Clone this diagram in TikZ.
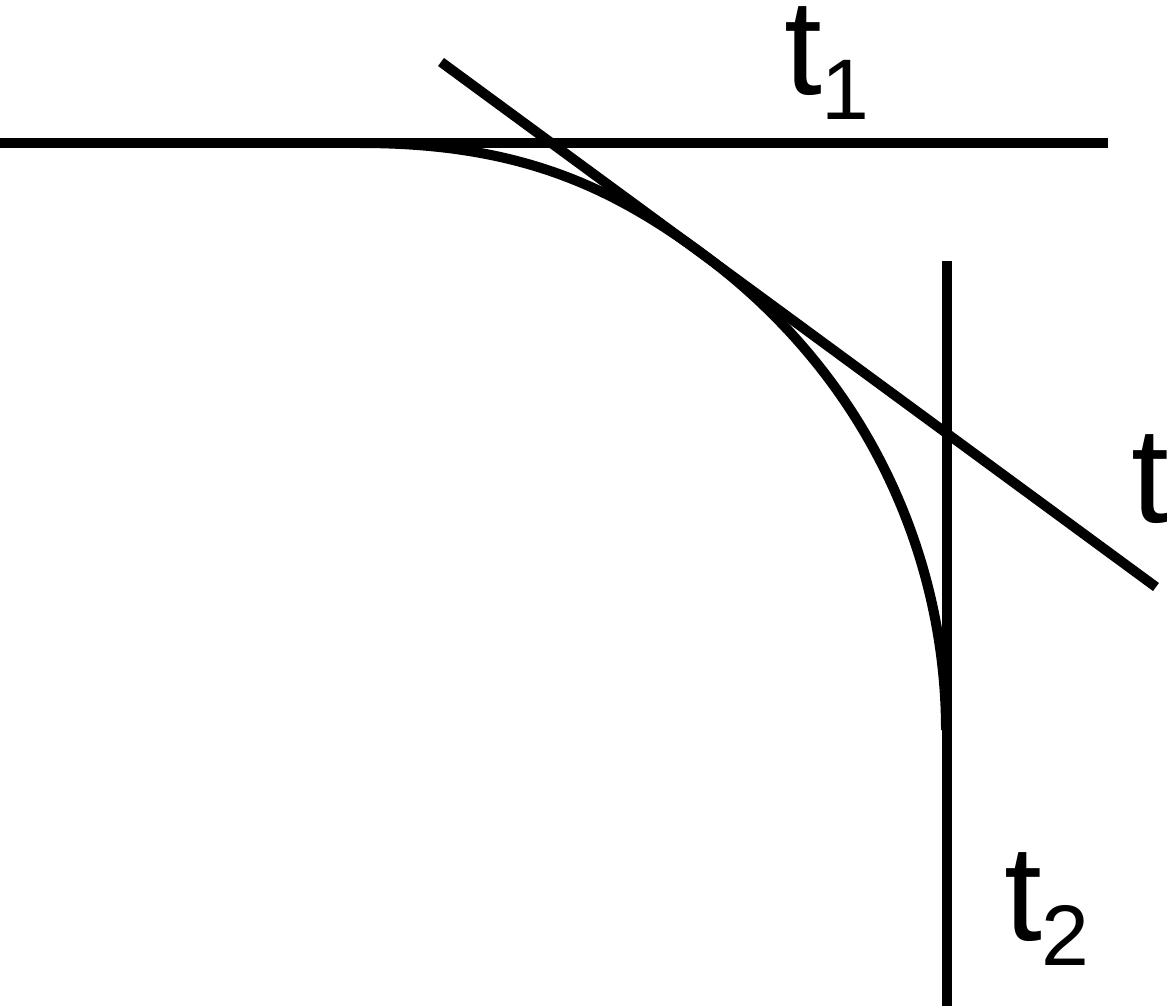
\documentclass[tikz,border=0pt]{standalone}
\usepackage{fontspec}
\setmainfont{Liberation Sans}
\newcommand{\bigT}{\fontsize{68}{68}\selectfont}
\newcommand{\subT}[1]{\raisebox{-12.5pt}{\fontsize{43}{43}\selectfont #1}}
\begin{document}
\begin{tikzpicture}[x=0.5pt,y=-0.5pt,
  ln/.style={line width=5pt, black},
  lbl/.style={anchor=base west, inner sep=0pt, outer sep=0pt, font=\bigT}]
\useasboundingbox (0,0) rectangle (1167,1006);
% coordinates
\coordinate (hA) at (0,143);
\coordinate (hB) at (1108,143);
\coordinate (vA) at (947,261);
\coordinate (vB) at (947,1006);
\coordinate (tA) at (441,62);
\coordinate (tB) at (1156,587);
\coordinate (cA) at (360,143);
\coordinate (cT) at (700,252);
\coordinate (cB) at (946,730);
% lines
\draw[ln] (hA) -- (hB);
\draw[ln] (vA) -- (vB);
\draw[ln] (tA) -- (tB);
\draw[ln] (cA) .. controls (510,143) and (603.3,181) .. (cT)
              .. controls (885,388) and (946,580) .. (cB);
% labels
\node[lbl] (l1) at (784,95) {t\subT{1}};
\node[lbl] (l2) at (1004,940) {t\subT{2}};
\node[lbl] (l3) at (1131,522) {t};
\end{tikzpicture}
\end{document}
